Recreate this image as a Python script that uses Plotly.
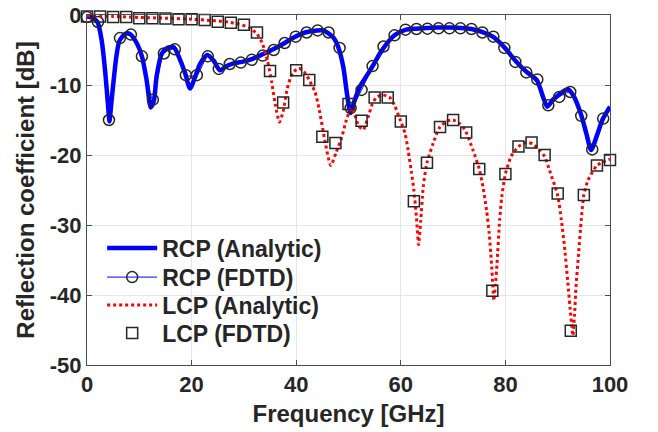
import plotly.graph_objects as go

# ---------------- data ----------------
rcp_analytic_f = [0, 1, 2, 2.8, 3.5, 4.1, 4.3, 4.6, 5.1, 5.6, 6.2, 7.3, 8.2, 9.5, 10.5, 11.4, 12.2,
                  12.8, 13.3, 14.3, 15.4, 16.6, 17.8, 18.8, 19.7, 20.7, 21.6, 23.0, 24.2, 25.4,
                  26.7, 28.0, 29.6, 31.5, 33.6, 35.6, 37.8, 39.8, 41.7, 44.0, 45.2, 46.1, 47.2,
                  48.0, 49.0, 49.7, 50.4, 51.2, 52.2, 53.8, 54.7, 56.0, 57.0, 58.8, 61.0, 63.0,
                  65.0, 67.0, 69.5, 71.5, 73.5, 75.5, 77.6, 79.9, 82.0, 84.0, 86.0, 87.2, 88.0,
                  89.1, 90.2, 91.9, 93.0, 94.5, 95.5, 96.4, 97.5, 98.6, 100]
rcp_analytic_db = [-0.2, -0.4, -1.0, -3.6, -8.3, -13.6, -15.2, -13.0, -9.3, -6.0, -3.7, -2.7, -2.7,
                   -4.0, -5.9, -9.3, -13.2, -12.2, -8.8, -5.5, -4.7, -4.6, -6.4, -8.4, -10.5, -8.8,
                   -7.0, -5.7, -6.5, -7.9, -7.3, -6.9, -6.7, -6.3, -5.6, -4.9, -4.0, -3.1, -2.5,
                   -2.2, -2.2, -2.6, -3.3, -4.5, -7.4, -11.2, -14.0, -12.1, -10.2, -8.3, -7.2,
                   -5.5, -4.4, -2.9, -2.1, -1.95, -1.85, -1.8, -1.8, -1.85, -2.0, -2.4, -3.1,
                   -4.7, -6.6, -8.1, -9.3, -11.7, -13.1, -12.1, -11.4, -10.6, -11.5, -14.3,
                   -17.0, -19.3, -17.2, -14.9, -13.1]

rcp_fdtd_f = [0, 2.1, 4.2, 6.3, 8.4, 10.5, 12.6, 14.7, 16.8, 18.9, 21.0, 23.1, 25.2, 27.3, 29.4,
              31.5, 33.6, 35.7, 37.8, 39.9, 42.0, 44.1, 46.2, 48.3, 50.4, 52.5, 54.6, 56.7, 58.8,
              60.9, 63.0, 65.1, 67.2, 69.3, 71.4, 73.5, 75.6, 77.7, 79.8, 81.9, 84.0, 86.1, 88.2,
              90.3, 92.4, 94.5, 96.6, 98.7]
rcp_fdtd_db = [-0.3, -1.0, -15.0, -3.3, -2.8, -5.9, -12.1, -5.5, -4.9, -8.6, -8.6, -5.9, -7.7,
               -7.0, -6.8, -6.4, -5.8, -5.0, -4.0, -3.1, -2.5, -2.2, -2.5, -4.7, -13.3, -10.7,
               -7.3, -4.5, -2.9, -2.1, -2.0, -1.95, -1.9, -1.9, -1.9, -2.0, -2.5, -3.1, -4.7,
               -6.7, -8.2, -9.2, -12.9, -11.7, -11.0, -14.4, -19.2, -14.8]

lcp_analytic_f = [0, 5, 10, 15, 20, 24, 27, 29, 31, 32.5, 33.5, 34.5, 35.3, 36.0, 36.8, 37.5,
                  38.3, 39.3, 40.5, 41.5, 42.5, 43.6, 44.4, 45.5, 46.6, 47.6, 48.7, 49.6, 50.5,
                  51.2, 51.9, 52.8, 53.8, 54.5, 55.3, 56.5, 57.9, 58.8, 59.8, 60.8, 61.4, 62.0,
                  62.5, 63.0, 63.4, 63.8, 64.3, 65.0, 66.2, 67.4, 68.7, 70.0, 71.2, 72.2, 73.8,
                  75.0, 75.7, 76.4, 76.9, 77.3, 77.6, 77.8, 78.1, 78.4, 78.9, 79.3, 80.0, 81.1,
                  82.5, 84.0, 85.2, 86.5, 87.5, 88.4, 90.0, 90.7, 91.3, 91.9, 92.5, 92.9, 93.2,
                  93.5, 94.0, 94.5, 95.0, 95.8, 97.5, 99.0, 100]
lcp_analytic_db = [-0.1, -0.2, -0.35, -0.45, -0.6, -0.8, -1.0, -1.3, -1.8, -2.7, -4.0, -6.5,
                   -9.5, -12.8, -15.3, -13.8, -10.5, -8.3, -7.6, -8.1, -9.3, -11.0, -13.5, -18.0,
                   -21.5, -19.7, -17.5, -15.0, -13.3, -14.2, -15.8, -16.4, -14.5, -12.8, -11.8,
                   -11.4, -11.8, -12.9, -14.8, -16.9, -19.3, -22.3, -25.0, -29.0, -32.8, -29.5,
                   -24.5, -21.1, -18.3, -16.1, -15.2, -15.0, -15.5, -16.3, -19.3, -22.0, -24.5,
                   -27.9, -31.2, -35.0, -38.8, -40.8, -38.5, -35.5, -29.3, -26.0, -22.7, -20.2,
                   -18.8, -18.2, -18.4, -19.3, -20.2, -22.1, -25.8, -29.3, -33.1, -37.9, -43.0,
                   -45.8, -43.0, -38.8, -34.0, -29.3, -25.7, -23.6, -21.5, -20.9, -20.6]

lcp_fdtd_f = [0, 2.5, 5, 7.5, 10, 12.5, 15, 17.5, 20, 22.5, 25, 27.5, 30, 32.5, 35, 37.5, 40,
              42.5, 45, 47.5, 50, 52.5, 55, 57.5, 60, 62.5, 65, 67.5, 70, 72.5, 75, 77.5, 80,
              82.5, 85, 87.5, 90, 92.5, 95, 97.5, 100]
lcp_fdtd_db = [-0.2, -0.2, -0.3, -0.3, -0.45, -0.45, -0.5, -0.6, -0.6, -0.7, -0.95, -1.1, -1.4,
               -2.5, -8.0, -12.5, -7.9, -9.3, -17.4, -18.3, -12.7, -15.1, -11.8, -11.8, -15.2,
               -26.6, -21.1, -16.0, -15.0, -16.8, -22.0, -39.4, -22.7, -18.8, -18.2, -20.0,
               -25.5, -45.1, -25.7, -21.5, -20.7]

x_ticks = [0, 20, 40, 60, 80, 100]
x_tick_labels = ["0", "20", "40", "60", "80", "100"]
y_ticks = [-50, -40, -30, -20, -10, 0]
y_tick_labels = ["-50", "-40", "-30", "-20", "-10", "0"]
legend_names = ["RCP (Analytic)", "RCP (FDTD)", "LCP (Analytic)", "LCP (FDTD)"]

# ---------------- figure ----------------
FONT = "Liberation Sans, Arial, sans-serif"
TXT = "#262626"
MK = "#262626"

fig = go.Figure()
fig.add_trace(go.Scatter(x=rcp_analytic_f, y=rcp_analytic_db, mode="lines",
                         name=legend_names[0], legend="legend",
                         line=dict(color="#0000FF", width=4.5, shape="spline", smoothing=0.7)))
fig.add_trace(go.Scatter(x=rcp_fdtd_f, y=rcp_fdtd_db, mode="lines+markers",
                         name=legend_names[1], legend="legend2", cliponaxis=False,
                         line=dict(color="#0000FF", width=1, shape="spline", smoothing=0.7),
                         marker=dict(symbol="circle-open", size=11, color=MK,
                                     line=dict(color=MK, width=1.5))))
fig.add_trace(go.Scatter(x=lcp_analytic_f, y=lcp_analytic_db, mode="lines",
                         name=legend_names[2], legend="legend3",
                         line=dict(color="#FF0000", width=3, dash="3px,3px",
                                   shape="spline", smoothing=0.6)))
fig.add_trace(go.Scatter(x=lcp_fdtd_f, y=lcp_fdtd_db, mode="markers",
                         name=legend_names[3], legend="legend4", cliponaxis=False,
                         marker=dict(symbol="square-open", size=11, color=MK,
                                     line=dict(color=MK, width=1.5))))

axis_common = dict(
    showline=True, linecolor="#4d4d4d", linewidth=1, mirror="ticks",
    ticks="inside", ticklen=5, tickcolor="#4d4d4d",
    showgrid=True, gridcolor="#e6e6e6", gridwidth=1, zeroline=False,
    automargin=False, ticklabeloverflow="allow",
    tickfont=dict(family=FONT, size=22, color=TXT, weight="bold"),
)
fig.update_xaxes(range=[0, 100], tickvals=x_ticks, ticktext=x_tick_labels,
                 title=dict(text="Frequency [GHz]", standoff=8,
                            font=dict(family=FONT, size=24, color=TXT, weight="bold")),
                 **axis_common)
fig.update_yaxes(range=[-50, 0], tickvals=y_ticks, ticktext=y_tick_labels,
                 title=dict(text="Reflection coefficient [dB]", standoff=8,
                            font=dict(family=FONT, size=24, color=TXT, weight="bold")),
                 **axis_common)

leg_common = dict(x=0.029, xanchor="left", yanchor="middle",
                  bgcolor="rgba(255,255,255,0)", borderwidth=0,
                  font=dict(family=FONT, size=23, color=TXT, weight="bold"),
                  itemwidth=50)

fig.update_layout(
    width=658, height=432,
    margin=dict(l=87, r=48, t=15, b=67, autoexpand=False),
    plot_bgcolor="white", paper_bgcolor="white",
    legend=dict(y=0.334, **leg_common),
    legend2=dict(y=0.251, **leg_common),
    legend3=dict(y=0.171, **leg_common),
    legend4=dict(y=0.091, **leg_common),
    showlegend=True,
)

fig.write_html("out.html",
               config={"displayModeBar": False},
               post_script="document.body.style.margin='0';document.body.style.padding='0';")
